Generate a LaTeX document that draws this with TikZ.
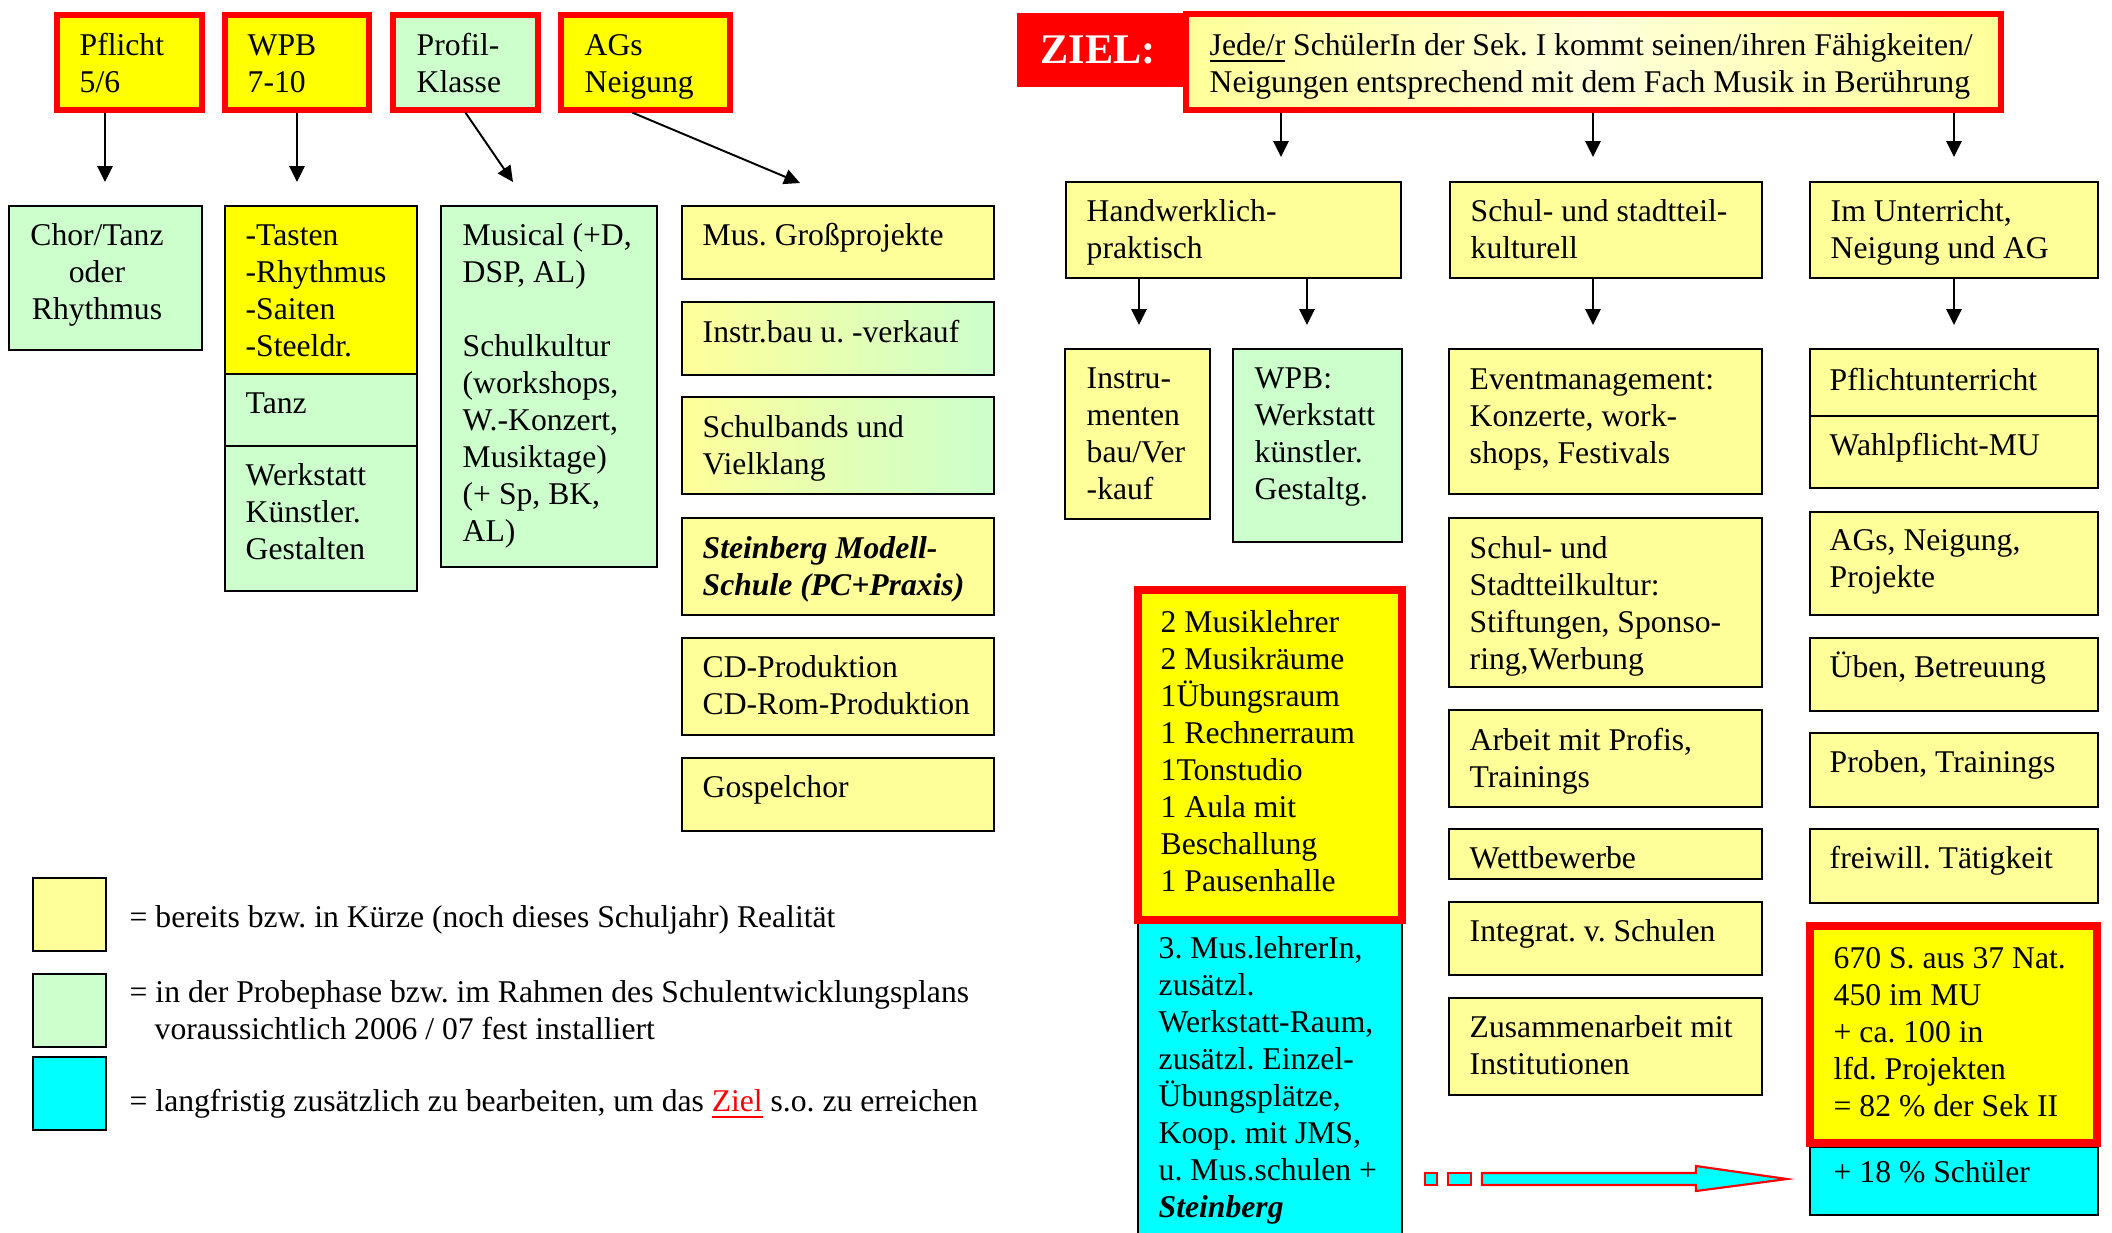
\documentclass[tikz,border=0pt]{standalone}
\usepackage{fontspec}
\setmainfont{Liberation Serif}
\usetikzlibrary{arrows.meta,fit,calc}
\definecolor{yel}{HTML}{FFFF00}
\definecolor{lyel}{HTML}{FFFF99}
\definecolor{lgrn}{HTML}{CCFFCC}
\definecolor{cyn}{HTML}{00FFFF}
\definecolor{rd}{HTML}{FF0000}
\frenchspacing
\newcommand{\tstrut}{\rule{0pt}{8.5pt}}
% box with text: name, x1, y1, x2, y2, style, dx, dy (to first baseline), text
\newcommand{\bx}[9]{%
  \node[#6, fit={(#2,#3) (#4,#5)}] (#1) {};
  \node[txt] (#1t) at (#2+#7,#3+#8-30) {\tstrut#9};}
\begin{document}
\begin{tikzpicture}[x=0.01cm,y=-0.01cm,
  bk/.style={draw=black, line width=0.6pt, inner sep=0pt},
  rb/.style={draw=rd, line width=1.5pt, inner sep=0pt},
  rbb/.style={draw=rd, line width=2.3pt, inner sep=0pt},
  txt/.style={anchor=north west, inner sep=0pt, align=left, font=\fontsize{9}{10.5}\selectfont},
  arr/.style={line width=0.55pt, -{Triangle[length=4.5pt,width=4.3pt]}},
  blk/.style={draw=rd, line width=0.6pt, fill=cyn},
]
\useasboundingbox (0,0) rectangle (2112,1232);
\clip (0,0) rectangle (2112,1232);
\fill[white] (0,0) rectangle (2112,1232);

% ---------- top left row ----------
\bx{pfl}{57}{15}{202}{110}{rb,fill=yel}{22}{40}{Pflicht\\5/6}
\bx{wpb}{225}{15}{369}{110}{rb,fill=yel}{22}{40}{WPB\\7-10}
\bx{prf}{393}{15}{538}{110}{rb,fill=lgrn}{23}{40}{Profil-\\Klasse}
\bx{ags}{561}{15}{730}{110}{rb,fill=yel}{23}{40}{AGs\\Neigung}

\coordinate (pe) at (105,182);
\coordinate (we) at (297,182);
\coordinate (re) at (513,182);
\coordinate (ae) at (800,183);
\draw[arr] (pfl.south -| pe) -- (pe);
\draw[arr] (wpb.south -| we) -- (we);
\draw[arr] (prf.south) -- (re);
\draw[arr] ([xshift=-0.13cm]ags.south) -- (ae);

% ---------- second row left ----------
\node[bk, fill=lgrn, fit={(9,206) (202,350)}] (chor) {};
\node[txt, anchor=north, align=center] (chort) at (97,245-30) {\tstrut Chor/Tanz\\oder\\Rhythmus};

\bx{tast}{225}{206}{417}{374}{bk,fill=yel}{20}{39}{-Tasten\\-Rhythmus\\-Saiten\\-Steeldr.}
\bx{tanz}{225}{374}{417}{446}{bk,fill=lgrn}{20}{39}{Tanz}
\bx{werk}{225}{446}{417}{591}{bk,fill=lgrn}{20}{39}{Werkstatt\\Künstler.\\Gestalten}

\bx{mus}{441}{206}{657}{567}{bk,fill=lgrn}{21}{39}{Musical (+D,\\DSP, AL)\\[10.5pt]Schulkultur\\(workshops,\\W.-Konzert,\\Musiktage)\\(+ Sp, BK,\\AL)}

\bx{gross}{682}{206}{994}{279}{bk,fill=lyel}{20}{39}{Mus. Großprojekte}
\bx{instr}{682}{302}{994}{375}{bk,left color=lyel,right color=lgrn}{20}{40}{Instr.bau u. -verkauf}
\bx{bands}{682}{397}{994}{494}{bk,left color=lyel,right color=lgrn,middle color=lgrn!55!lyel}{20}{40}{Schulbands und\\Vielklang}
\bx{stein}{682}{518}{994}{615}{bk,fill=lyel}{20}{40}{\textbf{\textit{Steinberg Modell-}}\\\textbf{\textit{Schule (PC+Praxis)}}}
\bx{cd}{682}{638}{994}{735}{bk,fill=lyel}{20}{39}{CD-Produktion\\CD-Rom-Produktion}
\bx{gosp}{682}{758}{994}{831}{bk,fill=lyel}{20}{39}{Gospelchor}

% ---------- legend ----------
\node[bk, fill=lyel, fit={(33,878) (106,951)}] (leg1) {};
\node[bk, fill=lgrn, fit={(33,974) (106,1047)}] (leg2) {};
\node[bk, fill=cyn, fit={(33,1057) (106,1130)}] (leg3) {};
\node[txt] (leg1t) at (129,927-30) {\tstrut= bereits bzw. in Kürze (noch dieses Schuljahr) Realität};
\node[txt] (leg2t) at (129,1002-30) {\tstrut= in der Probephase bzw. im Rahmen des Schulentwicklungsplans\\\hspace*{0.25cm}voraussichtlich 2006 / 07 fest installiert};
\node[txt] (leg3t) at (129,1111-30) {\tstrut= langfristig zusätzlich zu bearbeiten, um das \textcolor{rd}{\underline{Ziel}} s.o. zu erreichen};

% ---------- goal ----------
\node[fill=rd, inner sep=0pt, fit={(1017,13) (1183,87)}] (ziel) {};
\node[anchor=base, inner sep=0pt, text=white, font=\fontsize{12}{14}\selectfont\bfseries] (zielt) at (1098,63) {ZIEL:};
\bx{goal}{1186}{14}{2001}{110}{draw=rd,line width=1.7pt,inner sep=0pt,left color=lyel,right color=lyel,middle color=lyel!35}{23}{41}{\underline{Jede/r} SchülerIn der Sek. I kommt seinen/ihren Fähigkeiten/\\Neigungen entsprechend mit dem Fach Musik in Berührung}

\bx{hand}{1066}{182}{1401}{278}{bk,fill=lyel}{20}{39}{Handwerklich-\\praktisch}
\bx{schul}{1450}{182}{1762}{278}{bk,fill=lyel}{20}{39}{Schul- und stadtteil-\\kulturell}
\bx{unt}{1810}{182}{2098}{278}{bk,fill=lyel}{20}{39}{Im Unterricht,\\Neigung und AG}

\coordinate (g1) at (1281,157);
\coordinate (g2) at (1593,157);
\coordinate (g3) at (1954,157);
\draw[arr] (goal.south -| g1) -- (g1);
\draw[arr] (goal.south -| g2) -- (g2);
\draw[arr] (goal.south -| g3) -- (g3);

\coordinate (h1) at (1139,325);
\coordinate (h2) at (1307,325);
\coordinate (s1) at (1593,325);
\coordinate (u1) at (1954,325);
\draw[arr] (hand.south -| h1) -- (h1);
\draw[arr] (hand.south -| h2) -- (h2);
\draw[arr] (schul.south -| s1) -- (s1);
\draw[arr] (unt.south -| u1) -- (u1);

% column handwerklich
\bx{inst}{1065}{349}{1210}{519}{bk,fill=lyel}{21}{39}{Instru-\\menten\\bau/Ver\\-kauf}
\bx{wpbw}{1233}{349}{1402}{542}{bk,fill=lgrn}{21}{39}{WPB:\\Werkstatt\\künstler.\\Gestaltg.}
\bx{lang}{1138}{921}{1402}{1260}{bk,fill=cyn}{20}{37}{3. Mus.lehrerIn,\\zusätzl.\\Werkstatt-Raum,\\zusätzl. Einzel-\\Übungsplätze,\\Koop. mit JMS,\\u. Mus.schulen +\\\textbf{\textit{Steinberg}}}
\bx{res}{1138}{590}{1402}{920}{rbb,fill=yel}{22}{42}{2 Musiklehrer\\2 Musikräume\\1Übungsraum\\1 Rechnerraum\\1Tonstudio\\1 Aula mit\\Beschallung\\1 Pausenhalle}

% column schul
\bx{event}{1449}{349}{1762}{494}{bk,fill=lyel}{20}{40}{Eventmanagement:\\Konzerte, work-\\shops, Festivals}
\bx{stadt}{1449}{518}{1762}{687}{bk,fill=lyel}{20}{40}{Schul- und\\Stadtteilkultur:\\Stiftungen, Sponso-\\ring,Werbung}
\bx{profis}{1449}{710}{1762}{807}{bk,fill=lyel}{20}{40}{Arbeit mit Profis,\\Trainings}
\bx{wett}{1449}{829}{1762}{879}{bk,fill=lyel}{20}{39}{Wettbewerbe}
\bx{integ}{1449}{902}{1762}{975}{bk,fill=lyel}{20}{39}{Integrat. v. Schulen}
\bx{zus}{1449}{998}{1762}{1095}{bk,fill=lyel}{20}{39}{Zusammenarbeit mit\\Institutionen}

% column unterricht
\bx{pflu}{1810}{349}{2098}{416}{bk,fill=lyel}{19}{41}{Pflichtunterricht}
\bx{wahl}{1810}{416}{2098}{488}{bk,fill=lyel}{19}{39}{Wahlpflicht-MU}
\bx{agsn}{1810}{512}{2098}{615}{bk,fill=lyel}{19}{38}{AGs, Neigung,\\Projekte}
\bx{ueben}{1810}{638}{2098}{711}{bk,fill=lyel}{19}{39}{Üben, Betreuung}
\bx{prob}{1810}{733}{2098}{807}{bk,fill=lyel}{19}{39}{Proben, Trainings}
\bx{frei}{1810}{829}{2098}{903}{bk,fill=lyel}{19}{39}{freiwill. Tätigkeit}
\bx{plus}{1810}{1147}{2098}{1215}{bk,fill=cyn}{23}{35}{+ 18 \% Schüler}
\bx{zahl}{1810}{926}{2097}{1143}{rbb,fill=yel}{23}{42}{670 S. aus 37 Nat.\\450 im MU\\+ ca. 100 in\\lfd. Projekten\\= 82 \% der Sek II}

% ---------- block arrow ----------
\draw[blk] (1425,1173) rectangle (1437,1185);
\draw[blk] (1448,1173) rectangle (1471,1185);
\draw[blk] (1482,1173) -- (1696,1173) -- (1696,1166) -- (1787,1179) -- (1696,1191) -- (1696,1185) -- (1482,1185) -- cycle;
\end{tikzpicture}
\end{document}
